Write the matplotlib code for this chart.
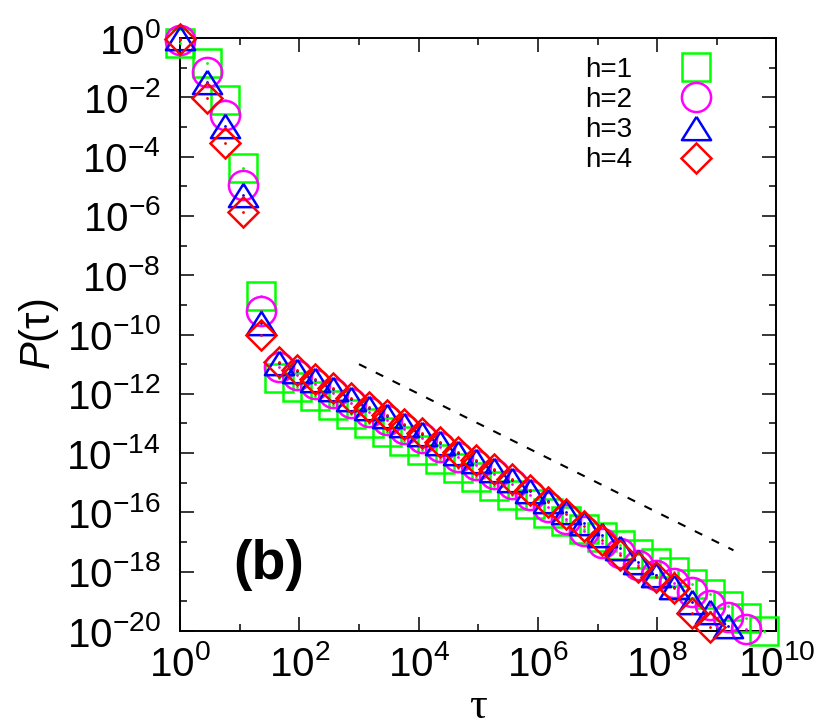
import matplotlib
matplotlib.use("Agg")
import matplotlib.pyplot as plt
import numpy as np
from matplotlib.ticker import FixedLocator, FuncFormatter, NullFormatter

plt.rcParams["font.family"] = ["Liberation Sans", "DejaVu Sans"]
plt.rcParams["mathtext.fontset"] = "custom"
plt.rcParams["mathtext.rm"] = "Liberation Sans"
plt.rcParams["mathtext.it"] = "Liberation Sans:italic"
plt.rcParams["mathtext.bf"] = "Liberation Sans:bold"

# bin centres, as log2(tau)
TAU_LOG2 = [0, 1.5, 2.5, 3.5, 4.5, 5.5, 6.5, 7.5, 8.5, 9.5, 10.5, 11.5, 12.5,
            13.5, 14.5, 15.5, 16.5, 17.5, 18.5, 19.5, 20.5, 21.5, 22.5, 23.5,
            24.5, 25.5, 26.5, 27.5, 28.5, 29.5, 30.5, 31.5, 32.5]

# log10 P(tau) per h
P_H1 = [-0.17, -0.85, -2.09, -4.40, -8.70,
        -11.47, -11.77, -12.07, -12.38, -12.68, -12.98, -13.29, -13.59, -13.90,
        -14.20, -14.50, -14.81, -15.11, -15.41, -15.72, -16.02, -16.29, -16.56,
        -16.83, -17.10, -17.40, -17.71, -18.01, -18.41, -18.75, -19.16, -19.56,
        -20.00]
P_H2 = [-0.05, -1.14, -2.60, -4.96, -9.20,
        -11.10, -11.37, -11.67, -11.97, -12.31, -12.61, -12.88, -13.19, -13.49,
        -13.79, -14.13, -14.40, -14.71, -15.04, -15.41, -15.82, -16.22, -16.63,
        -17.03, -17.37, -17.77, -18.11, -18.38, -18.68, -19.12, -19.53, -19.93]
P_H3 = [0.00, -1.48, -2.97, -5.30, -9.60,
        -10.96, -11.23, -11.53, -11.84, -12.18, -12.48, -12.75, -13.05, -13.36,
        -13.66, -14.00, -14.27, -14.57, -14.91, -15.28, -15.62, -15.99, -16.36,
        -16.76, -17.20, -17.67, -18.11, -18.52, -19.02, -19.36, -19.83]
P_H4 = [-0.04, -2.03, -3.55, -5.86, -10.00,
        -10.93, -11.20, -11.50, -11.80, -12.14, -12.45, -12.72, -13.02, -13.32,
        -13.63, -13.96, -14.23, -14.54, -14.87, -15.24, -15.65, -16.05, -16.46,
        -16.93, -17.44, -17.84, -18.18, -18.55, -19.39, -19.87]
LABELS = ["h=1", "h=2", "h=3", "h=4"]

# guide line ~ tau^-1
GUIDE_TAU = [1e3, 1.9e9]
GUIDE_P = [1e-11, 5.3e-18]

COLORS = ["#00FF00", "#FF00FF", "#0000FF", "#FF0000"]
TRI = [(0, 0.8), (-1, -0.8), (1, -0.8), (0, 0.8)]
MARKERS = [("s", 20), ("o", 21), (TRI, 21), ("D", 15)]

fig = plt.figure(figsize=(8.3, 7.27), dpi=100)
ax = fig.add_axes([0.2169, 0.132, 0.7186, 0.8157])
ax.set_xscale("log")
ax.set_yscale("log")

tau = 2.0 ** np.array(TAU_LOG2)
for p, lab, c, (m, ms) in zip([P_H1, P_H2, P_H3, P_H4], LABELS, COLORS, MARKERS):
    x = tau[:len(p)]
    y = 10.0 ** np.array(p)
    ax.plot(x, y, ls="none", marker=m, ms=ms, mfc="none", mec=c, mew=1.8,
            clip_on=False, label=lab, zorder=3)
    ax.plot(x, y, ls="none", marker=".", ms=2, color=c, clip_on=False, zorder=3)

ax.plot(GUIDE_TAU, GUIDE_P, color="black", lw=1.5, ls=(0, (4, 5)), zorder=2)

ax.set_xlim(1, 1e10)
ax.set_ylim(1e-20, 1)

ax.xaxis.set_major_locator(FixedLocator(10.0 ** np.arange(0, 11, 2)))
ax.xaxis.set_minor_locator(FixedLocator(10.0 ** np.arange(1, 10, 2)))
ax.yaxis.set_major_locator(FixedLocator(10.0 ** np.arange(-20, 1, 2)))
ax.yaxis.set_minor_locator(FixedLocator(10.0 ** np.arange(-19, 0, 2)))
fmt = FuncFormatter(lambda v, pos: r"$\mathregular{10^{%d}}$" % round(np.log10(v)))
ax.xaxis.set_major_formatter(fmt)
ax.yaxis.set_major_formatter(fmt)
ax.xaxis.set_minor_formatter(NullFormatter())
ax.yaxis.set_minor_formatter(NullFormatter())

ax.tick_params(which="both", direction="in", top=True, right=True, width=1.1,
               labelsize=29)
ax.tick_params(which="major", length=10)
ax.tick_params(which="minor", length=5)
ax.tick_params(axis="y", pad=14)
ax.tick_params(axis="x", pad=10)
for s in ax.spines.values():
    s.set_linewidth(1.4)

ax.set_ylabel(r"$\mathit{P}$(τ)", fontsize=30, labelpad=4)
ax.set_xlabel("τ", fontsize=32, family="Liberation Serif", labelpad=2)

ax.text(0.148, 0.111, "(b)", transform=ax.transAxes, fontsize=40,
        fontweight="bold", ha="center", va="center")

ax.legend(loc="upper right", bbox_to_anchor=(0.889, 0.968), frameon=False,
          markerfirst=False, fontsize=20, handlelength=1.0, handletextpad=1.8,
          labelspacing=0.15, borderpad=0, borderaxespad=0, numpoints=1)

fig.savefig("out.png", dpi=100)
